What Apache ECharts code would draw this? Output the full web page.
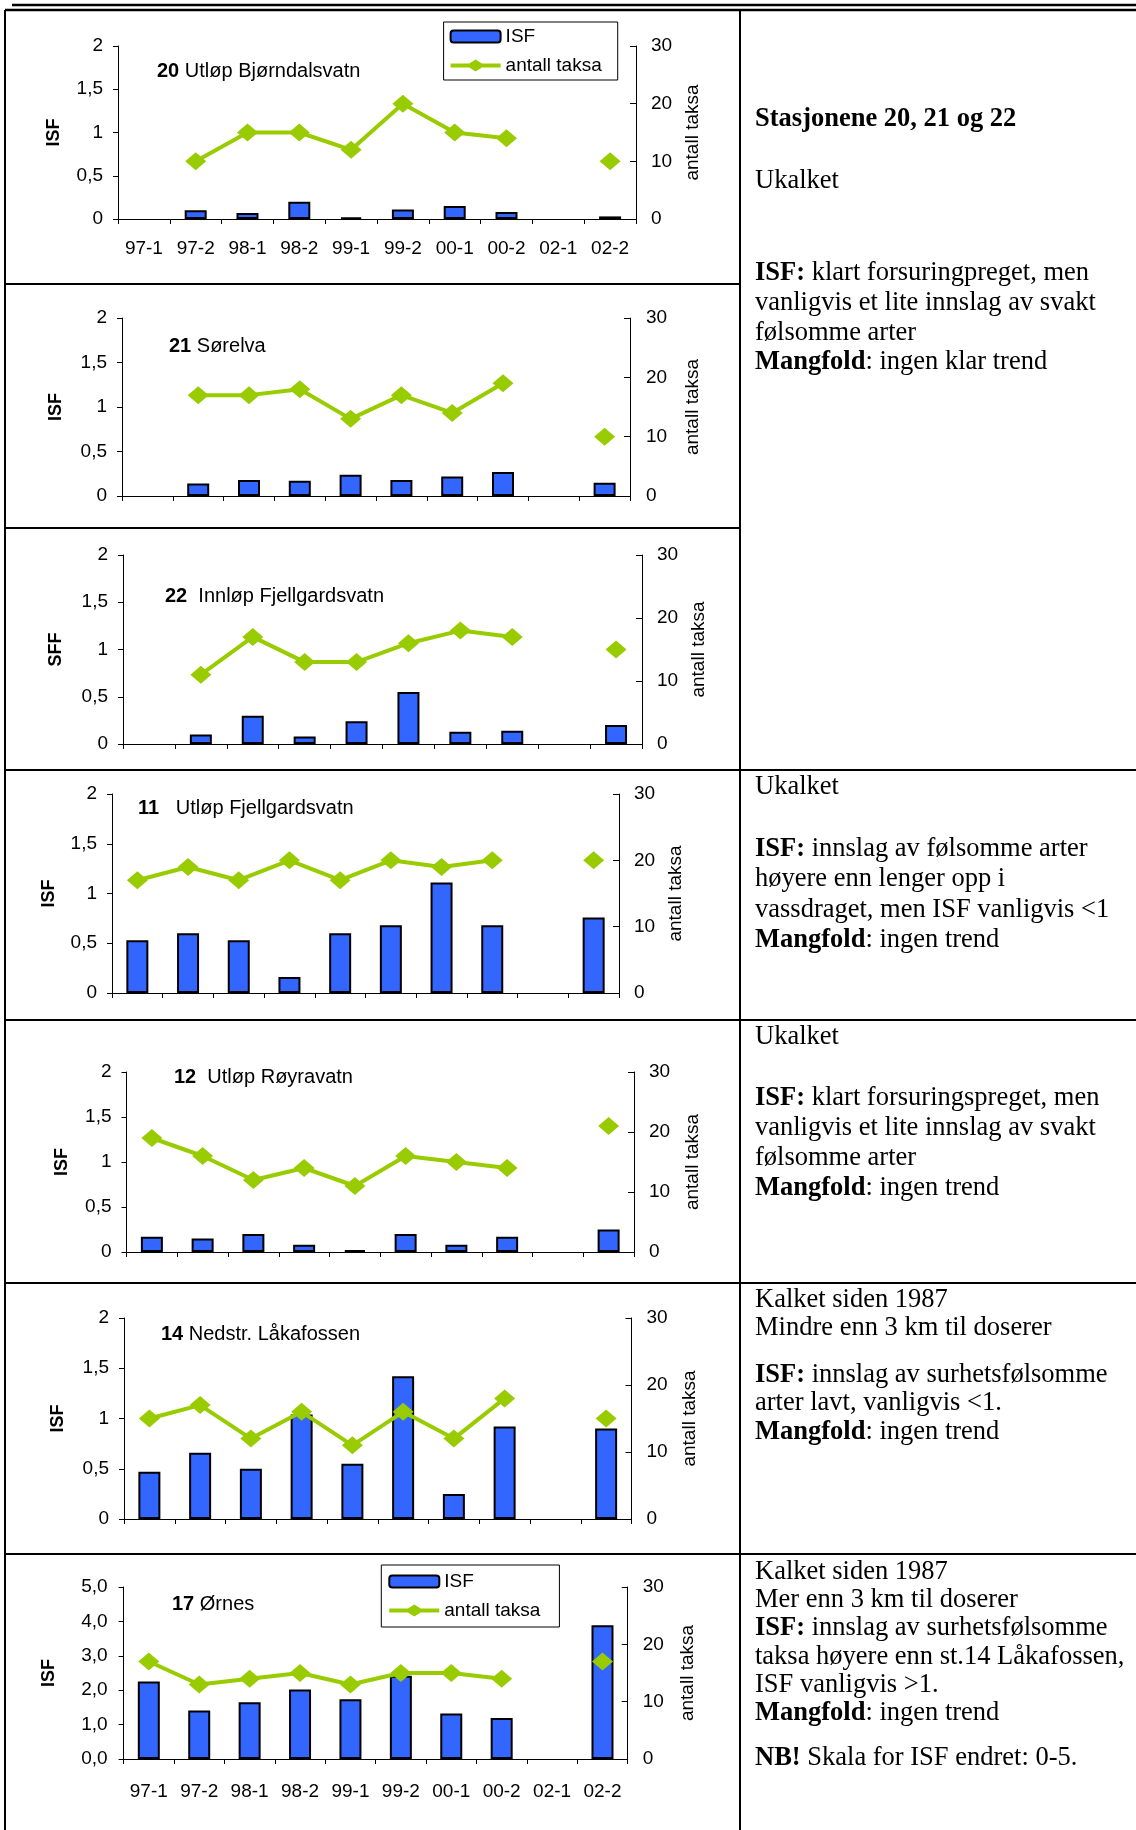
<!DOCTYPE html>
<html><head><meta charset="utf-8">
<script src="https://cdn.jsdelivr.net/npm/echarts@6/dist/echarts.min.js"></script>
<style>html,body{margin:0;padding:0;background:#fff}#c{width:1136px;height:1830px}</style>
</head><body><div id="c"></div>
<script>
// ---------- data ----------
const categories = ['97-1','97-2','98-1','98-2','99-1','99-2','00-1','00-2','02-1','02-2'];

const isf20   = [null,0.10,0.07,0.20,0.02,0.11,0.15,0.08,null,0.03];
const taksa20 = [null,10,15,15,12,20,15,14,null,10];
const isf21   = [null,0.14,0.18,0.17,0.24,0.18,0.22,0.27,null,0.15];
const taksa21 = [null,17,17,18,13,17,14,19,null,10];
const isf22   = [null,0.10,0.30,0.08,0.24,0.55,0.13,0.14,null,0.20];
const taksa22 = [null,11,17,13,13,16,18,17,null,15];
const isf11   = [0.53,0.60,0.53,0.16,0.60,0.68,1.11,0.68,null,0.76];
const taksa11 = [17,19,17,20,17,20,19,20,null,20];
const isf12   = [0.17,0.15,0.20,0.08,0.02,0.20,0.08,0.17,null,0.25];
const taksa12 = [19,16,12,14,11,16,15,14,null,21];
const isf14   = [0.47,0.66,0.50,1.04,0.55,1.42,0.25,0.92,null,0.90];
const taksa14 = [15,17,12,16,11,16,12,18,null,15];
const isf17   = [2.25,1.41,1.65,2.02,1.74,2.42,1.32,1.19,null,3.89];
const taksa17 = [17,13,14,15,13,15,15,14,null,17];

const isfTicks   = ['0','0,5','1','1,5','2'];
const isfTicks17 = ['0,0','1,0','2,0','3,0','4,0','5,0'];
const taksaTicks = ['0','10','20','30'];

const stationNums  = ['20','21','22','11','12','14','17'];
const stationNames = ['Utløp Bjørndalsvatn','Sørelva','Innløp Fjellgardsvatn','Utløp Fjellgardsvatn','Utløp Røyravatn','Nedstr. Låkafossen','Ørnes'];
const numSep       = [' ',' ','  ','   ','  ',' ',' '];
const leftNames    = ['ISF','ISF','SFF','ISF','ISF','ISF','ISF'];
const rightName    = 'antall taksa';
const isfSeries    = [isf20,isf21,isf22,isf11,isf12,isf14,isf17];
const taksaSeries  = [taksa20,taksa21,taksa22,taksa11,taksa12,taksa14,taksa17];

// right column texts
const notes = [
  ['{b|Stasjonene 20, 21 og 22}', 119],
  ['Ukalket', 181],
  ['{b|ISF:} klart forsuringpreget, men', 273],
  ['vanligvis et lite innslag av svakt', 303],
  ['følsomme arter', 333],
  ['{b|Mangfold}: ingen klar trend', 362],
  ['Ukalket', 787],
  ['{b|ISF:} innslag av følsomme arter', 849],
  ['høyere enn lenger opp i', 879],
  ['vassdraget, men ISF vanligvis <1', 910],
  ['{b|Mangfold}: ingen trend', 940],
  ['Ukalket', 1037],
  ['{b|ISF:} klart forsuringspreget, men', 1098],
  ['vanligvis et lite innslag av svakt', 1128],
  ['følsomme arter', 1158],
  ['{b|Mangfold}: ingen trend', 1188],
  ['Kalket siden 1987', 1300],
  ['Mindre enn 3 km til doserer', 1328],
  ['{b|ISF:} innslag av surhetsfølsomme', 1375],
  ['arter lavt, vanligvis <1.', 1403],
  ['{b|Mangfold}: ingen trend', 1432],
  ['Kalket siden 1987', 1572],
  ['Mer enn 3 km til doserer', 1600],
  ['{b|ISF:} innslag av surhetsfølsomme', 1628],
  ['taksa høyere enn st.14 Låkafossen,', 1657],
  ['ISF vanligvis >1.', 1685],
  ['{b|Mangfold}: ingen trend', 1713],
  ['{b|NB!} Skala for ISF endret: 0-5.', 1758]
];

// ---------- layout (styles/positions) ----------
const SANS = "'Liberation Sans',Arial,sans-serif";
const SERIF = "'Liberation Serif','Times New Roman',serif";
const BAR = '#3366ff', LINE = '#99cc00';
const FS = 19;

const layout = [
  {l:118,   r:636,   t:46,   b:219,  tx:157, ty:71,   lc:52, rc:693, lm:15, rm:15, xl:20},
  {l:122,   r:630,   t:318,  b:496,  tx:169, ty:346,  lc:54, rc:693, lm:15, rm:16, xl:0},
  {l:123,   r:642,   t:555,  b:744,  tx:165, ty:596,  lc:54, rc:699, lm:15, rm:15, xl:0},
  {l:112,   r:619,   t:794,  b:993,  tx:138, ty:808,  lc:47, rc:676, lm:15, rm:15, xl:0},
  {l:126.5, r:634,   t:1072, b:1252, tx:174, ty:1077, lc:60, rc:693, lm:15, rm:15, xl:0},
  {l:124,   r:631.5, t:1318, b:1519, tx:161, ty:1334, lc:56, rc:690, lm:15, rm:15, xl:0},
  {l:123.6, r:627.7, t:1587, b:1759, tx:172, ty:1604, lc:47, rc:688, lm:16, rm:15, xl:23}
];

const grid=[], xAxis=[], yAxis=[], series=[], title=[];
layout.forEach((p,i)=>{
  grid.push({left:p.l, top:p.t, width:p.r-p.l, height:p.b-p.t, containLabel:false});
  xAxis.push({
    type:'category', gridIndex:i, data:categories, boundaryGap:true,
    axisLine:{lineStyle:{color:'#000',width:1}},
    axisTick:{show:true,length:5,lineStyle:{color:'#000'}},
    axisLabel:{show:p.xl>0, margin:p.xl, fontFamily:SANS, fontSize:FS, color:'#000', interval:0},
    splitLine:{show:false}
  });
  const is17 = i===6;
  yAxis.push({
    type:'value', gridIndex:i, position:'left', min:0, max:is17?5:2, interval:is17?1:0.5,
    name:leftNames[i], nameLocation:'middle', nameRotate:90, nameGap:p.l-p.lc-11,
    nameTextStyle:{fontFamily:SANS, fontWeight:'bold', fontSize:18, color:'#000'},
    axisLine:{show:true,lineStyle:{color:'#000',width:1}},
    axisTick:{show:true,length:5,lineStyle:{color:'#000'}},
    axisLabel:{margin:p.lm, fontFamily:SANS, fontSize:FS, color:'#000',
      formatter:v=> is17 ? isfTicks17[Math.round(v)] : isfTicks[Math.round(v/0.5)]},
    splitLine:{show:false}
  });
  yAxis.push({
    type:'value', gridIndex:i, position:'right', min:0, max:30, interval:10,
    name:rightName, nameLocation:'middle', nameRotate:90, nameGap:p.rc-p.r-9.5,
    nameTextStyle:{fontFamily:SANS, fontSize:19, color:'#000'},
    axisLine:{show:true,lineStyle:{color:'#000',width:1}},
    axisTick:{show:true,inside:true,length:6,lineStyle:{color:'#000'}},
    axisLabel:{margin:p.rm, fontFamily:SANS, fontSize:FS, color:'#000',
      formatter:v=>taksaTicks[Math.round(v/10)]},
    splitLine:{show:false}
  });
  series.push({
    name:'ISF', type:'bar', xAxisIndex:i, yAxisIndex:2*i, data:isfSeries[i], barWidth:22,
    itemStyle:{color:BAR, borderColor:'#000', borderWidth:2}, z:2
  });
  series.push({
    name:'antall taksa', type:'line', xAxisIndex:i, yAxisIndex:2*i+1, data:taksaSeries[i],
    connectNulls:false, symbol:'diamond', symbolSize:[21,18], showAllSymbol:true,
    lineStyle:{color:LINE,width:4}, itemStyle:{color:LINE}, z:3
  });
  title.push({
    left:p.tx, top:p.ty-11, padding:0,
    text:'{b|'+stationNums[i]+'}{n|'+numSep[i]+stationNames[i]+'}',
    textStyle:{fontWeight:'normal', rich:{
      b:{fontFamily:SANS,fontWeight:'bold',fontSize:20,color:'#000',lineHeight:22},
      n:{fontFamily:SANS,fontWeight:'normal',fontSize:20,color:'#000',lineHeight:22}
    }}
  });
});

const lineIcon = 'path://M0,4L18.67,4L25,0L31.33,4L50,4L50,8L31.33,8L25,12L18.67,8L0,8Z';
const legendCommon = {
  orient:'vertical', itemWidth:50, itemHeight:12, itemGap:10,
  backgroundColor:'#fff', borderColor:'#000', borderWidth:1,
  textStyle:{fontFamily:SANS,fontSize:FS,color:'#000'},
  data:[
    {name:'ISF', itemStyle:{color:BAR,borderColor:'#000',borderWidth:2}},
    {name:'antall taksa', icon:lineIcon, itemStyle:{color:LINE,borderWidth:0}}
  ],
  selectedMode:false
};
const legend = [
  Object.assign({}, legendCommon, {left:443.6, top:22, padding:[5,16,5,6]}),
  Object.assign({}, legendCommon, {left:381.3, top:1565, padding:[7,19,7,7]})
];

// table borders and notes
const graphic = [];
const L = (x1,y1,x2,y2,w)=>graphic.push({type:'line',silent:true,shape:{x1,y1,x2,y2},style:{stroke:'#000',lineWidth:w||2}});
L(12,5,1136,5,2.5);
L(5,10,1136,10,2.5);
L(5,10,5,1830,2);
L(740,10,740,1830,2);
L(5,284,740,284,2);
L(5,528,740,528,2);
[770,1020,1283,1554].forEach(y=>L(5,y,1136,y,2));
notes.forEach(([t,y])=>{
  graphic.push({type:'text', silent:true, style:{
    x:755, y:y, text:t, align:'left', verticalAlign:'middle',
    fontFamily:SERIF, fontSize:26.5, fill:'#000',
    rich:{b:{fontFamily:SERIF,fontSize:26.5,fontWeight:'bold',fill:'#000'}}
  }});
});

const chart = echarts.init(document.getElementById('c'), null, {renderer:'canvas'});
chart.setOption({animation:false, backgroundColor:'#fff', grid, xAxis, yAxis, series, title, legend, graphic});
</script></body></html>
